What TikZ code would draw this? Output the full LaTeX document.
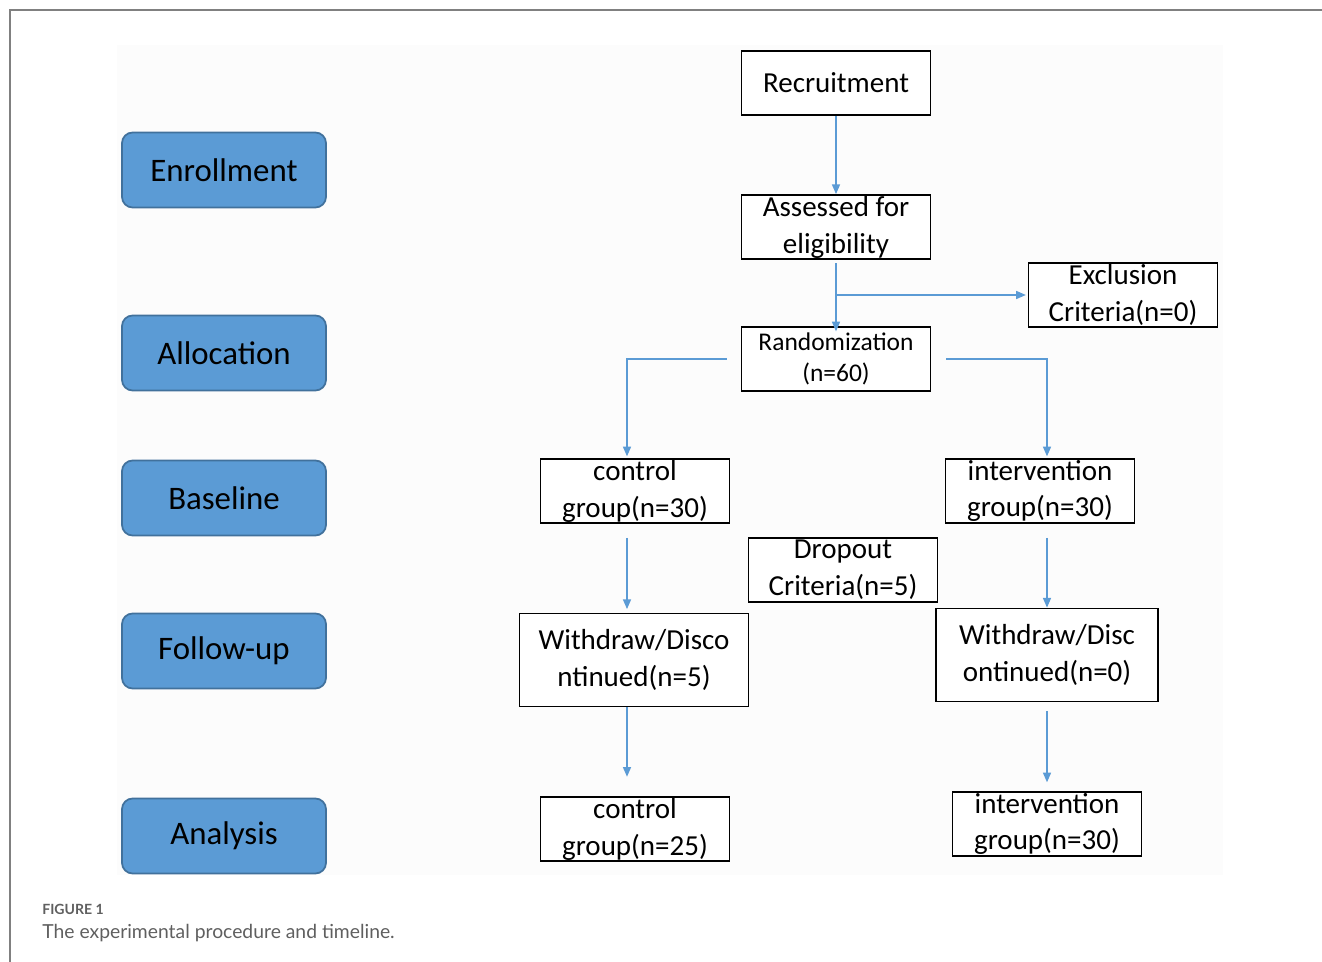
\documentclass[tikz,border=0pt]{standalone}
\usepackage{fontspec}
\setmainfont{Carlito}
\newfontfamily\capfont{Lato}
\usetikzlibrary{calc,shapes,arrows.meta}
\definecolor{stageblue}{RGB}{91,155,213}
\definecolor{stageedge}{RGB}{65,113,156}
\definecolor{flowblue}{RGB}{91,155,213}
\definecolor{framegray}{RGB}{128,128,128}
\definecolor{panelgray}{RGB}{252,252,252}
\definecolor{capgray}{RGB}{95,95,95}

\tikzset{
  stage/.style={draw=stageedge, fill=stageblue, rounded corners=6pt, line width=1pt,
    minimum width=4.08cm, minimum height=1.5cm, inner sep=0pt,
    font=\fontsize{18.7}{22}\selectfont},
  flowbox/.style={draw=black, fill=white, line width=1pt, minimum width=3.78cm,
    minimum height=1.28cm, inner sep=0pt, align=center,
    font=\fontsize{16.5}{21}\selectfont},
  flowarr/.style={draw=flowblue, line width=0.9pt, -{Triangle[length=5.5pt,width=4.5pt]}},
}

\begin{document}
\begin{tikzpicture}[x=0.02cm,y=-0.02cm]
  \useasboundingbox (0,0) rectangle (1322,962);
  \draw[framegray, line width=1.2pt] (10,962) -- (10,10) -- (1322,10);
  \fill[panelgray] (117,45) rectangle (1223,875);

  % stages on the left
  \foreach \name/\y/\txt in {enr/170/Enrollment, alc/353/Allocation, bas/498/Baseline,
      fol/651/Follow-up, ana/836/Analysis}
    \node[stage] (\name) at (224,\y) {\txt};

  % flow boxes
  \node[flowbox] (rec) at (836,83) {Recruitment};
  \node[flowbox] (ass) at (836,227) {Assessed for\\eligibility};
  \node[flowbox] (exc) at (1123,295) {Exclusion\\Criteria(n=0)};
  \node[flowbox, font=\fontsize{14.5}{18}\selectfont] (rnd) at (836,359) {Randomization\\(n=60)};
  \node[flowbox] (ctl30) at (635,491) {control\\group(n=30)};
  \node[flowbox] (int30) at (1040,491) {intervention\\group(n=30)};
  \node[flowbox] (drop) at (843,570) {Dropout\\Criteria(n=5)};
  \node[flowbox, minimum width=4.58cm, minimum height=1.86cm]
    (wd5) at (634,660) {Withdraw/Disco\\ntinued(n=5)};
  \node[flowbox, minimum width=4.44cm, minimum height=1.86cm]
    (wd0) at (1047,655) {Withdraw/Disc\\ontinued(n=0)};
  \node[flowbox] (ctl25) at (635,829) {control\\group(n=25)};
  \node[flowbox] (int30b) at (1047,824) {intervention\\group(n=30)};

  \coordinate (lc) at (627,0);
  \coordinate (rc) at (1047,0);

  % connectors
  \draw[flowarr] (rec) -- (ass);
  \draw[flowarr] ([yshift=-2pt]ass.south) -- ([yshift=-3pt]rnd.north);
  \draw[flowarr] (ass.south |- exc.west) -- ([xshift=-1pt]exc.west);
  \draw[flowarr] ([xshift=-8pt]rnd.west) -| ([yshift=1pt]ctl30.north -| lc);
  \draw[flowarr] ([xshift=8.5pt]rnd.east) -| ([yshift=1pt]int30.north -| rc);
  \draw[flowarr] ([yshift=-8pt]ctl30.south -| lc) -- ([yshift=2pt]wd5.north -| lc);
  \draw[flowarr] ([yshift=-8pt]int30.south -| rc) -- (wd0.north -| rc);
  \draw[flowarr] (wd5.south -| lc) -- ([yshift=11pt]ctl25.north -| lc);
  \draw[flowarr] ([yshift=-5pt]wd0.south -| rc) -- ([yshift=5pt]int30b.north -| rc);

  % caption
  \node[anchor=base west, inner sep=0pt, text=capgray, font=\capfont\bfseries\fontsize{8}{10}\selectfont]
    (fig) at (42,914) {FIGURE 1};
  \node[anchor=base west, inner sep=0pt, text=capgray, font=\capfont\fontsize{11}{13}\selectfont]
    (cap) at (42,938) {The experimental procedure and timeline.};
\end{tikzpicture}
\end{document}
